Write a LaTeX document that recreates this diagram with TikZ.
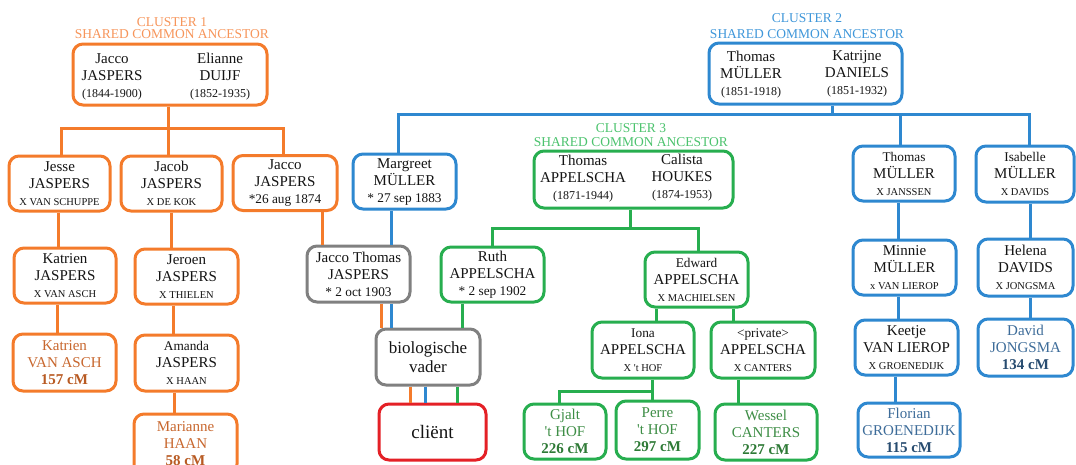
\documentclass[tikz,border=0pt]{standalone}
\usepackage{fontspec}
\setmainfont{Liberation Serif}
\definecolor{orC}{HTML}{F47B2B}
\definecolor{blC}{HTML}{2E88D0}
\definecolor{grC}{HTML}{27AE4F}
\definecolor{gyC}{HTML}{808080}
\definecolor{rdC}{HTML}{E42026}
\definecolor{orH}{HTML}{F7955A}
\definecolor{blH}{HTML}{3F97DA}
\definecolor{grH}{HTML}{4CC36E}
\definecolor{namec}{HTML}{141414}
\definecolor{orT}{HTML}{C8672E}
\definecolor{orB}{HTML}{B85A22}
\definecolor{grT}{HTML}{3E8E46}
\definecolor{grB}{HTML}{2E7A36}
\definecolor{blT}{HTML}{3D6C99}
\definecolor{blB}{HTML}{284C70}
\newcommand{\fB}{\fontsize{15}{17}\selectfont}
\newcommand{\fX}{\fontsize{10.5}{12}\selectfont}
\newcommand{\fD}{\fontsize{13.3}{15}\selectfont}
\newcommand{\fY}{\fontsize{12}{14}\selectfont}
\newcommand{\fH}{\fontsize{13.5}{14}\selectfont}
\tikzset{
  box/.style={draw, line width=3pt, rounded corners=10pt, inner sep=0pt, align=center, font=\fB, text=namec},
  ob/.style={box, draw=orC}, bb/.style={box, draw=blC}, gb/.style={box, draw=grC},
  yb/.style={box, draw=gyC}, rb/.style={box, draw=rdC},
  ol/.style={draw=orC, line width=3pt}, bl/.style={draw=blC, line width=3pt}, gl/.style={draw=grC, line width=3pt},
  hd/.style={anchor=base, inner sep=0pt, font=\fH},
  col/.style={align=center, inner sep=0pt, font=\fB, text=namec},
}
\begin{document}
\begin{tikzpicture}[x=1pt,y=-1pt]
\fill[white] (0,0) rectangle (1076,464);
\useasboundingbox (0,0) rectangle (1076,464);

% ---------------- cluster 1
\node[hd, text=orH] (h1a) at (172,26) {CLUSTER 1};
\node[hd, text=orH] (h1b) at (172,38) {SHARED COMMON ANCESTOR};
\node[ob, minimum width=194pt, minimum height=61pt] (c1) at (170,74.5) {};
\node[col] (c1l) at (112,77) {Jacco\\JASPERS\\{\fY(1844-1900)}};
\node[col] (c1r) at (220,77) {Elianne\\DUIJF\\{\fY(1852-1935)}};

\node[ob, minimum width=101pt, minimum height=55pt] (jesse) at (59.5,183.5) {Jesse\\JASPERS\\{\fX X VAN SCHUPPE}};
\node[ob, minimum width=101pt, minimum height=55pt] (jacob) at (171.5,183.5) {Jacob\\JASPERS\\{\fX X DE KOK}};
\node[ob, minimum width=104pt, minimum height=55pt] (jacco) at (285,183) {Jacco\\JASPERS\\{\fD *26 aug 1874}};
\node[ob, minimum width=102pt, minimum height=55pt] (katJ) at (65,275.5) {Katrien\\JASPERS\\{\fX X VAN ASCH}};
\node[ob, minimum width=103pt, minimum height=55pt] (jeroen) at (186.5,276.5) {Jeroen\\JASPERS\\{\fX X THIELEN}};
\node[ob, minimum width=103pt, minimum height=57pt, text=orT] (katV) at (64.5,362.5) {Katrien\\VAN ASCH\\{\bfseries\color{orB}157 cM}};
\node[ob, minimum width=103pt, minimum height=56pt] (amanda) at (186.5,363) {{\fD Amanda}\\JASPERS\\{\fX X HAAN}};
\node[ob, minimum width=103pt, minimum height=60pt, text=orT] (marianne) at (185.5,444) {Marianne\\HAAN\\{\bfseries\color{orB}58 cM}};

% ---------------- middle
\node[yb, minimum width=103pt, minimum height=56pt] (jaccoT) at (358.5,274) {Jacco Thomas\\JASPERS\\{\fD * 2 oct 1903}};
\node[yb, minimum width=104pt, minimum height=56pt, font=\fontsize{17}{19}\selectfont] (bio) at (428,357) {biologische\\vader};
\node[rb, minimum width=107pt, minimum height=56pt, font=\fontsize{19}{21}\selectfont] (client) at (432.5,432) {cliënt};
\node[bb, minimum width=103pt, minimum height=55pt] (margreet) at (404.5,181.5) {Margreet\\MÜLLER\\{\fD * 27 sep 1883}};

% ---------------- cluster 3
\node[hd, text=grH] (h3a) at (631,132) {CLUSTER 3};
\node[hd, text=grH] (h3b) at (631,146.5) {SHARED COMMON ANCESTOR};
\node[gb, minimum width=199pt, minimum height=57pt] (c3) at (633.5,179.5) {};
\node[col] (c3l) at (583,179) {Thomas\\APPELSCHA\\{\fY(1871-1944)}};
\node[col] (c3r) at (682,178) {Calista\\HOUKES\\{\fY(1874-1953)}};
\node[gb, minimum width=103pt, minimum height=55pt] (ruth) at (492.5,274.5) {Ruth\\APPELSCHA\\{\fD * 2 sep 1902}};
\node[gb, minimum width=103pt, minimum height=55pt] (edward) at (696.5,279.5) {{\fD Edward}\\APPELSCHA\\{\fX X MACHIELSEN}};
\node[gb, minimum width=102pt, minimum height=56pt] (iona) at (643,350) {{\fD Iona}\\APPELSCHA\\{\fX X \textquotesingle t HOF}};
\node[gb, minimum width=104pt, minimum height=56pt] (private) at (763,350) {{\fD <private>}\\APPELSCHA\\{\fX X CANTERS}};
\node[gb, minimum width=82pt, minimum height=55pt, text=grT] (gjalt) at (565,431.5) {Gjalt\\\textquotesingle t HOF\\{\bfseries\color{grB}226 cM}};
\node[gb, minimum width=83pt, minimum height=58pt, text=grT] (perre) at (657.5,430) {Perre\\\textquotesingle t HOF\\{\bfseries\color{grB}297 cM}};
\node[gb, minimum width=102pt, minimum height=56pt, text=grT] (wessel) at (766,432) {Wessel\\CANTERS\\{\bfseries\color{grB}227 cM}};

% ---------------- cluster 2
\node[hd, text=blH] (h2a) at (807,22) {CLUSTER 2};
\node[hd, text=blH] (h2b) at (807,38) {SHARED COMMON ANCESTOR};
\node[bb, minimum width=193pt, minimum height=61pt] (c2) at (805.5,73.5) {};
\node[col] (c2l) at (751,75) {Thomas\\MÜLLER\\{\fY(1851-1918)}};
\node[col] (c2r) at (857,74) {Katrijne\\DANIELS\\{\fY(1851-1932)}};
\node[bb, minimum width=102pt, minimum height=55pt] (thomasM) at (904,173.5) {{\fD Thomas}\\MÜLLER\\{\fX X JANSSEN}};
\node[bb, minimum width=98pt, minimum height=56pt] (isabelle) at (1025,174) {{\fD Isabelle}\\MÜLLER\\{\fX X DAVIDS}};
\node[bb, minimum width=103pt, minimum height=55pt] (minnie) at (904.5,267.5) {Minnie\\MÜLLER\\{\fX x VAN LIEROP}};
\node[bb, minimum width=95pt, minimum height=57pt] (helena) at (1025.5,267.5) {Helena\\DAVIDS\\{\fX X JONGSMA}};
\node[bb, minimum width=103pt, minimum height=55pt] (keetje) at (906.5,347.5) {Keetje\\VAN LIEROP\\{\fX X GROENEDIJK}};
\node[bb, minimum width=95pt, minimum height=57pt, text=blT] (david) at (1025.5,347.5) {David\\JONGSMA\\{\bfseries\color{blB}134 cM}};
\node[bb, minimum width=102pt, minimum height=54pt, text=blT] (florian) at (909,430) {Florian\\GROENEDIJK\\{\bfseries\color{blB}115 cM}};

% ---------------- guide coordinates
\coordinate (o1) at (168,128); \coordinate (o1a) at (61,128); \coordinate (o1c) at (283,128);
\coordinate (b1) at (832,114); \coordinate (b1a) at (398,114); \coordinate (b1b) at (900,114); \coordinate (b1c) at (1029,114);
\coordinate (g1) at (630,228); \coordinate (g1a) at (492,228); \coordinate (g1c) at (698,228);
\coordinate (g2) at (652,391); \coordinate (g2a) at (559,391);
\coordinate (x1) at (58,0); \coordinate (x2) at (57,0); \coordinate (x3) at (171,0);
\coordinate (x4) at (173,0); \coordinate (x5) at (174,0); \coordinate (x6) at (322,0);
\coordinate (x7) at (381,0); \coordinate (x8) at (410,0); \coordinate (x9) at (391,0);
\coordinate (x11) at (425,0); \coordinate (x12) at (898,0); \coordinate (x13) at (895,0);
\coordinate (x14) at (1030,0); \coordinate (x15) at (462,0); \coordinate (x16) at (457,0);
\coordinate (x17) at (656,0); \coordinate (x18) at (733,0); \coordinate (x19) at (738,0);

% ---------------- orange connectors
\draw[ol] (c1.south -| o1) -- (o1);
\draw[ol] (jesse.north -| o1a) -- (o1a) -- (o1c) -- (jacco.north -| o1c);
\draw[ol] (o1) -- (jacob.north -| o1);
\draw[ol] (jesse.south -| x1) -- (katJ.north -| x1);
\draw[ol] (katJ.south -| x2) -- (katV.north -| x2);
\draw[ol] (jacob.south -| x3) -- (jeroen.north -| x3);
\draw[ol] (jeroen.south -| x4) -- (amanda.north -| x4);
\draw[ol] (amanda.south -| x5) -- (marianne.north -| x5);
\draw[ol] (jacco.south -| x6) -- (jaccoT.north -| x6);
\draw[ol] (jaccoT.south -| x7) -- (bio.north -| x7);
\draw[ol] (bio.south -| x8) -- (client.north -| x8);

% ---------------- blue connectors
\draw[bl] (c2.south -| b1) -- (b1);
\draw[bl] (margreet.north -| b1a) -- (b1a) -- (b1c) -- (isabelle.north -| b1c);
\draw[bl] (b1b) -- (thomasM.north -| b1b);
\draw[bl] (margreet.south -| x9) -- (jaccoT.north -| x9);
\draw[bl] (jaccoT.south -| x9) -- (bio.north -| x9);
\draw[bl] (bio.south -| x11) -- (client.north -| x11);
\draw[bl] (thomasM.south -| x12) -- (minnie.north -| x12);
\draw[bl] (minnie.south -| x12) -- (keetje.north -| x12);
\draw[bl] (keetje.south -| x13) -- (florian.north -| x13);
\draw[bl] (isabelle.south -| x14) -- (helena.north -| x14);
\draw[bl] (helena.south -| x14) -- (david.north -| x14);

% ---------------- green connectors
\draw[gl] (c3.south -| g1) -- (g1);
\draw[gl] (ruth.north -| g1a) -- (g1a) -- (g1c) -- (edward.north -| g1c);
\draw[gl] (ruth.south -| x15) -- (bio.north -| x15);
\draw[gl] (bio.south -| x16) -- (client.north -| x16);
\draw[gl] (edward.south -| x17) -- (iona.north -| x17);
\draw[gl] (edward.south -| x18) -- (private.north -| x18);
\draw[gl] (iona.south -| g2) -- (perre.north -| g2);
\draw[gl] (g2) -- (g2a) -- (gjalt.north -| g2a);
\draw[gl] (private.south -| x19) -- (wessel.north -| x19);
\end{tikzpicture}
\end{document}
